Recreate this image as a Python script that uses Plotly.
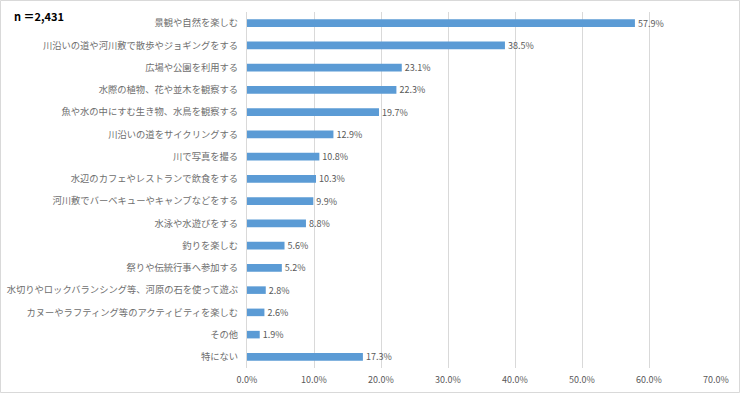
import plotly.graph_objects as go

categories = [
    "景観や自然を楽しむ",
    "川沿いの道や河川敷で散歩やジョギングをする",
    "広場や公園を利用する",
    "水際の植物、花や並木を観察する",
    "魚や水の中にすむ生き物、水鳥を観察する",
    "川沿いの道をサイクリングする",
    "川で写真を撮る",
    "水辺のカフェやレストランで飲食をする",
    "河川敷でバーベキューやキャンプなどをする",
    "水泳や水遊びをする",
    "釣りを楽しむ",
    "祭りや伝統行事へ参加する",
    "水切りやロックバランシング等、河原の石を使って遊ぶ",
    "カヌーやラフティング等のアクティビティを楽しむ",
    "その他",
    "特にない",
]
values = [57.9, 38.5, 23.1, 22.3, 19.7, 12.9, 10.8, 10.3, 9.9, 8.8, 5.6, 5.2, 2.8, 2.6, 1.9, 17.3]
x_ticks = [0, 10, 20, 30, 40, 50, 60, 70]
x_ticklabels = ["0.0%", "10.0%", "20.0%", "30.0%", "40.0%", "50.0%", "60.0%", "70.0%"]
note = "n ＝2,431"

font_family = "Noto Sans CJK JP, sans-serif"

L, R, T, B = 247, 24, 12, 25
W, H = 740, 393
pw, ph = W - L - R, H - T - B

fig = go.Figure(
    go.Bar(
        x=values,
        y=categories,
        orientation="h",
        marker=dict(color="#5b9bd5", line=dict(width=0)),
        text=[f"{v:.1f}%" for v in values],
        textposition="outside",
        constraintext="none",
        textfont=dict(size=9, color="#595959", family=font_family),
        cliponaxis=False,
        hoverinfo="skip",
    )
)

fig.update_layout(
    width=W,
    height=H,
    margin=dict(l=L, r=R, t=T, b=B, autoexpand=False),
    paper_bgcolor="white",
    plot_bgcolor="white",
    bargap=0.66,
    showlegend=False,
    font=dict(family=font_family, color="#595959", size=9),
    xaxis=dict(
        range=[0, 70],
        tickvals=x_ticks,
        ticktext=x_ticklabels,
        showgrid=True,
        gridcolor="#d9d9d9",
        gridwidth=1,
        zeroline=False,
        showline=False,
        tickfont=dict(size=9, color="#595959"),
        ticks="",
        ticklabelstandoff=5,
        automargin=False,
        fixedrange=True,
    ),
    yaxis=dict(
        type="category",
        autorange="reversed",
        showline=True,
        linecolor="#d9d9d9",
        linewidth=1,
        ticks="",
        ticklabelstandoff=6,
        tickfont=dict(size=9.3, color="#6e6e6e"),
        automargin=False,
        fixedrange=True,
    ),
    annotations=[
        dict(
            text=f"<b>{note}</b>",
            xref="paper", yref="paper",
            x=(-L + 12) / pw, y=1 - 4 / ph,
            xanchor="left", yanchor="middle",
            showarrow=False,
            font=dict(size=11, color="#000000", family=font_family),
        )
    ],
    shapes=[
        dict(
            type="rect", xref="paper", yref="paper",
            x0=(-L + 0.5) / pw, x1=1 + (R - 0.5) / pw,
            y0=(-B + 0.5) / ph, y1=1 + (T - 0.5) / ph,
            line=dict(color="#d9d9d9", width=1),
            fillcolor="rgba(0,0,0,0)",
            layer="below",
        )
    ],
)

fig.write_html(
    "out.html",
    config={"displayModeBar": False, "staticPlot": True},
    post_script="document.body.style.margin='0';document.body.style.overflow='hidden';",
)
